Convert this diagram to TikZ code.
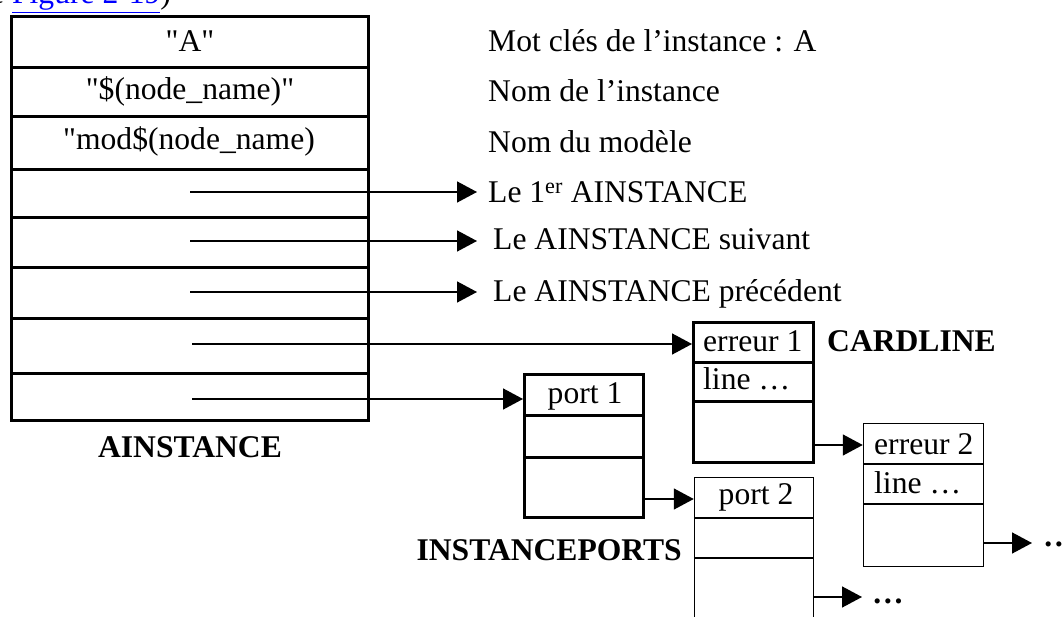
\documentclass[tikz,border=0pt]{standalone}
\usepackage{fontspec}
\setmainfont{Liberation Serif}
% same face without the TeX input mapping, so that " stays a straight quote
\newfontfamily\rawserif{Liberation Serif}[Ligatures=Common]
\usetikzlibrary{arrows.meta,fit}
\begin{document}
\begin{tikzpicture}[x=1pt,y=-1pt,
  every node/.style={font=\fontsize{31.6}{36}\selectfont, inner sep=0pt},
  thickbox/.style={draw, line width=3pt, inner sep=0pt},
  thinbox/.style={draw, line width=1.5pt, inner sep=0pt},
  thickrule/.style={line width=3pt},
  thinrule/.style={line width=1.5pt},
  arr/.style={line width=1.5pt, -{Triangle[length=20pt,width=21pt]}},
  txt/.style={anchor=base west},
  ctxt/.style={anchor=base, font=\fontsize{31.6}{36}\rawserif},
  title/.style={font=\fontsize{31.6}{36}\selectfont\bfseries},
]
\useasboundingbox (0,0) rectangle (1063,617);

% caption line above the figure
\node[anchor=base west] (cap) at (-10,4) {e \textcolor{blue}{\underline{Figure 2-19}})};

% ---------------- AINSTANCE record ----------------
\node[thickbox, fit={(11.5,16.5) (368.5,420.5)}] (ain) {};
\foreach \y in {68,117,170,218,268,319,374}
  \draw[thickrule] (ain.west |- 0,\y) -- (ain.east |- 0,\y);
\node[ctxt] (f1) at (190,52)  {"A"};
\node[ctxt] (f2) at (190,100) {"\$(node\_name)"};
\node[ctxt] (f3) at (189,150) {"mod\$(node\_name)};
\node[title, anchor=base] (ainl) at (190,457) {AINSTANCE};

% field descriptions
\node[txt] (d1) at (488,52)  {Mot clés de l’instance : A};
\node[txt] (d2) at (488,102) {Nom de l’instance};
\node[txt] (d3) at (488,153) {Nom du modèle};
\node[txt] (d4) at (488,203) {Le 1\textsuperscript{er} AINSTANCE};
\node[txt] (d5) at (493,250) {Le AINSTANCE suivant};
\node[txt] (d6) at (493,302) {Le AINSTANCE précédent};

% pointer origins inside the record
\coordinate (p4) at (190,192);
\coordinate (p5) at (190,241);
\coordinate (p6) at (190,292);
\coordinate (p7) at (192,344);
\coordinate (p8) at (192,399);

% ---------------- INSTANCEPORTS records ----------------
\node[thickbox, fit={(524.5,374.5) (643.5,517.5)}] (pt1) {};
\foreach \y in {416,457}
  \draw[thickrule] (pt1.west |- 0,\y) -- (pt1.east |- 0,\y);
\node[ctxt] (pt1t) at (585,403) {port 1};
\node[title, anchor=base east] (ptl) at (682,560) {INSTANCEPORTS};

\node[thinbox, fit={(694.5,477.5) (813.5,640)}] (pt2) {};
\foreach \y in {518,558}
  \draw[thinrule] (pt2.west |- 0,\y) -- (pt2.east |- 0,\y);
\node[ctxt] (pt2t) at (756,504) {port 2};
\node[txt, font=\fontsize{31.6}{36}\selectfont\bfseries] (dots2) at (872,603) {…};

% ---------------- CARDLINE records ----------------
\node[thickbox, fit={(693.5,323) (813.5,462.5)}] (cl1) {};
\foreach \y in {363,402}
  \draw[thickrule] (cl1.west |- 0,\y) -- (cl1.east |- 0,\y);
\node[txt] (cl1a) at (703,352) {erreur 1};
\node[txt] (cl1b) at (703,390) {line …};
\node[title, anchor=base west] (cll) at (827,352) {CARDLINE};

\node[thinbox, fit={(863.5,423.5) (983.5,566.5)}] (cl2) {};
\foreach \y in {464,504}
  \draw[thinrule] (cl2.west |- 0,\y) -- (cl2.east |- 0,\y);
\node[txt] (cl2a) at (874,454) {erreur 2};
\node[txt] (cl2b) at (874,493) {line …};
\node[txt, font=\fontsize{31.6}{36}\selectfont\bfseries] (dots1) at (1043,546) {…};

% ---------------- pointers ----------------
\draw[arr] (p4) -- ([xshift=-11pt]d4.west |- p4);
\draw[arr] (p5) -- ([xshift=-16pt]d5.west |- p5);
\draw[arr] (p6) -- ([xshift=-16pt]d6.west |- p6);
\draw[arr] (p7) -- (p7 -| cl1.west);
\draw[arr] (p8) -- (p8 -| pt1.west);
\draw[arr] (pt1.east |- 0,499) -- (pt2.west |- 0,499);
\draw[arr] (cl1.east |- 0,445) -- (cl2.west |- 0,445);
\draw[arr] (cl2.east |- 0,543) -- ([xshift=-11pt]dots1.west |- 0,543);
\draw[arr] (pt2.east |- 0,597) -- ([xshift=-10pt]dots2.west |- 0,597);
\end{tikzpicture}
\end{document}
